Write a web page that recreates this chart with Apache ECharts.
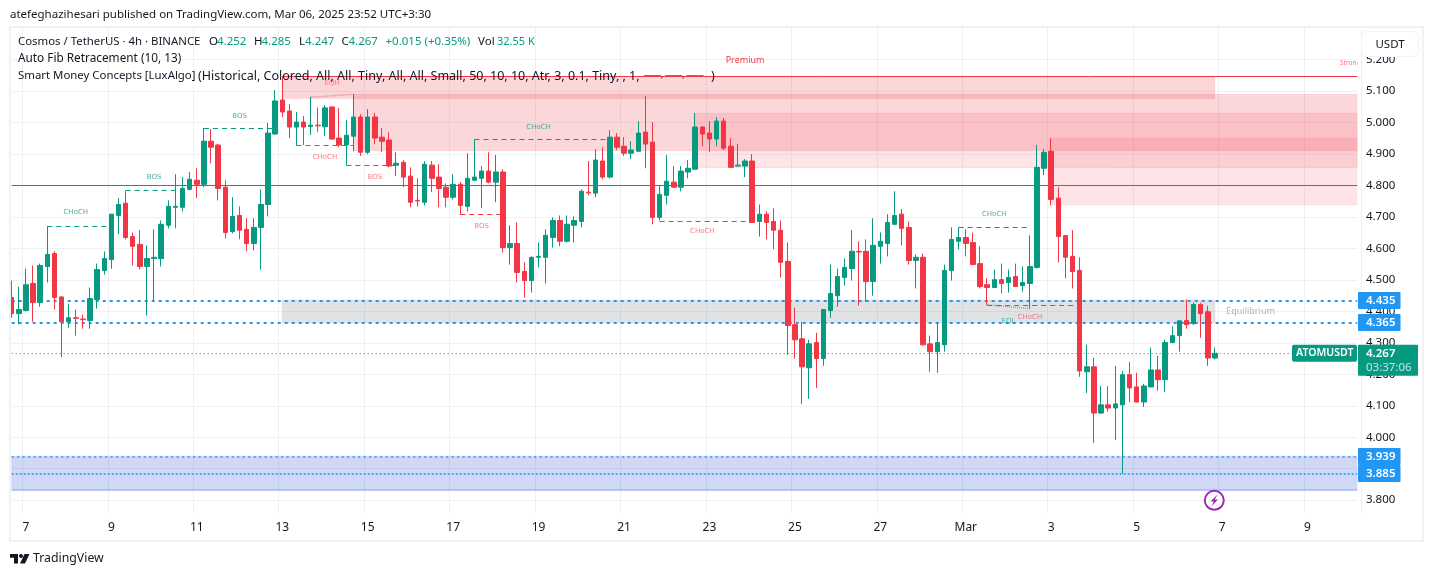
<!DOCTYPE html>
<html>
<head>
<meta charset="utf-8">
<style>html,body{margin:0;padding:0;background:#fff}#c{width:1433px;height:576px}</style>
<script src="https://cdn.jsdelivr.net/npm/echarts@6/dist/echarts.min.js"></script>
</head>
<body>
<div id="c"></div>
<script>
const opens = [
4.444,4.393,4.403,4.489,4.428,4.543,4.584,4.446,4.367,4.380,
4.376,4.371,4.438,4.530,4.565,4.705,4.744,4.638,4.613,4.543,
4.568,4.568,4.674,4.731,4.731,4.788,4.817,4.804,4.941,4.929,
4.795,4.654,4.705,4.661,4.616,4.667,4.740,4.964,5.072,5.037,
4.986,5.002,4.988,4.992,4.987,5.050,4.951,4.929,4.957,5.018,
4.906,5.018,4.954,4.945,4.865,4.874,4.830,4.753,4.747,4.865,
4.827,4.795,4.763,4.804,4.734,4.817,4.823,4.846,4.811,4.843,
4.603,4.616,4.527,4.498,4.572,4.572,4.635,4.689,4.623,4.674,
4.686,4.779,4.776,4.878,4.827,4.954,4.925,4.903,4.909,4.970,
4.938,4.699,4.769,4.811,4.795,4.843,4.852,4.986,4.967,4.948,
5.005,4.925,4.862,4.862,4.878,4.686,4.709,4.686,4.658,4.559,
4.358,4.313,4.221,4.301,4.250,4.403,4.450,4.508,4.536,4.591,
4.591,4.495,4.607,4.616,4.677,4.709,4.667,4.562,4.572,4.297,
4.272,4.294,4.530,4.623,4.635,4.619,4.552,4.485,4.476,4.501,
4.492,4.511,4.482,4.489,4.540,4.855,4.909,4.760,4.641,4.575,
4.530,4.208,4.224,4.077,4.103,4.093,4.103,4.199,4.160,4.112,
4.160,4.214,4.183,4.301,4.323,4.371,4.361,4.422,4.399,4.252];
const highs = [
4.498,4.479,4.536,4.546,4.552,4.672,4.591,4.448,4.425,4.406,
4.390,4.476,4.552,4.591,4.709,4.760,4.784,4.651,4.658,4.610,
4.661,4.689,4.753,4.836,4.827,4.843,4.855,4.983,4.980,4.933,
4.817,4.763,4.734,4.696,4.696,4.788,4.999,5.104,5.147,5.059,
5.034,5.021,5.082,5.048,5.056,5.050,5.047,5.008,5.091,5.027,
5.043,5.031,4.983,4.970,4.906,4.881,4.858,4.823,4.878,4.878,
4.868,4.807,4.836,4.811,4.903,4.947,4.862,4.906,4.897,4.852,
4.674,4.683,4.556,4.575,4.619,4.661,4.699,4.705,4.705,4.702,
4.788,4.878,4.916,4.922,4.976,4.967,4.954,4.941,5.005,5.085,
5.002,4.801,4.897,4.862,4.862,4.881,5.031,4.989,5.005,5.018,
5.015,4.951,4.932,4.884,4.900,4.740,4.718,4.728,4.689,4.619,
4.412,4.367,4.310,4.332,4.406,4.549,4.536,4.568,4.658,4.623,
4.629,4.696,4.651,4.709,4.782,4.725,4.686,4.581,4.584,4.323,
4.364,4.549,4.667,4.667,4.661,4.651,4.607,4.505,4.533,4.552,
4.533,4.552,4.543,4.642,4.929,4.916,4.951,4.795,4.642,4.658,
4.572,4.294,4.253,4.163,4.163,4.227,4.211,4.240,4.205,4.170,
4.285,4.259,4.310,4.352,4.371,4.438,4.428,4.428,4.418,4.285];
const lows = [
4.380,4.359,4.400,4.367,4.415,4.492,4.406,4.254,4.348,4.323,
4.345,4.345,4.409,4.517,4.536,4.645,4.629,4.546,4.533,4.387,
4.434,4.543,4.664,4.664,4.718,4.785,4.760,4.795,4.871,4.753,
4.632,4.648,4.629,4.591,4.594,4.533,4.702,4.961,5.018,4.951,
4.926,4.929,4.961,4.971,4.957,4.945,4.922,4.864,4.909,4.894,
4.900,4.932,4.906,4.858,4.830,4.795,4.731,4.734,4.737,4.779,
4.731,4.731,4.756,4.708,4.718,4.814,4.728,4.807,4.747,4.587,
4.549,4.492,4.444,4.460,4.540,4.489,4.603,4.607,4.619,4.619,
4.667,4.769,4.763,4.820,4.823,4.913,4.894,4.884,4.909,4.855,
4.677,4.689,4.740,4.794,4.782,4.823,4.851,4.925,4.906,4.925,
4.913,4.857,4.861,4.827,4.682,4.638,4.629,4.597,4.508,4.262,
4.250,4.106,4.122,4.157,4.227,4.380,4.415,4.482,4.498,4.418,
4.431,4.450,4.552,4.575,4.674,4.610,4.549,4.473,4.291,4.208,
4.205,4.272,4.498,4.597,4.575,4.548,4.473,4.421,4.475,4.457,
4.460,4.478,4.463,4.409,4.536,4.833,4.737,4.556,4.505,4.473,
4.192,4.141,3.982,4.074,4.081,3.991,3.884,4.112,4.111,4.096,
4.159,4.148,4.144,4.300,4.272,4.345,4.358,4.316,4.227,4.247];
const closes = [
4.393,4.406,4.485,4.428,4.546,4.581,4.444,4.367,4.380,4.378,
4.374,4.441,4.533,4.568,4.709,4.740,4.635,4.607,4.543,4.568,
4.572,4.677,4.734,4.734,4.791,4.820,4.804,4.941,4.922,4.791,
4.651,4.702,4.658,4.616,4.667,4.740,4.967,5.069,5.034,4.986,
5.002,4.986,4.992,4.990,5.047,4.948,4.929,4.960,5.018,4.906,
5.018,4.951,4.941,4.862,4.871,4.827,4.747,4.751,4.868,4.823,
4.791,4.763,4.804,4.737,4.823,4.827,4.846,4.811,4.843,4.603,
4.616,4.524,4.498,4.572,4.575,4.642,4.689,4.623,4.677,4.689,
4.782,4.777,4.881,4.827,4.954,4.922,4.903,4.913,4.967,4.932,
4.699,4.772,4.814,4.795,4.846,4.855,4.986,4.964,4.948,5.005,
4.919,4.858,4.865,4.878,4.683,4.709,4.683,4.658,4.556,4.355,
4.310,4.224,4.297,4.250,4.406,4.457,4.511,4.540,4.591,4.589,
4.495,4.610,4.623,4.683,4.705,4.664,4.562,4.572,4.294,4.272,
4.301,4.530,4.629,4.635,4.616,4.549,4.479,4.476,4.501,4.489,
4.508,4.479,4.492,4.543,4.858,4.906,4.756,4.638,4.572,4.527,
4.211,4.224,4.077,4.103,4.093,4.106,4.199,4.157,4.112,4.163,
4.214,4.183,4.301,4.323,4.370,4.358,4.422,4.393,4.252,4.267];

// time axis: a day label every 12 four-hour slots
const dayLabels = ['7','9','11','13','15','17','19','21','23','25','27','Mar','3','5','7','9'];
const firstLabelSlot = 2, slotsPerLabel = 12, slotCount = 190, lastSlot = 189;
const priceTicks = [3.8,3.9,4.0,4.1,4.2,4.3,4.4,4.5,4.6,4.7,4.8,4.9,5.0,5.1,5.2];

// [startSlot, endSlot, price]
const bullStructures = [[5,14,4.672],[16,23,4.784],[27,37,4.983],[65,84,4.947],[133,143,4.667]];
const bearStructures = [[40,48,4.9275],[47,54,4.864],[63,69,4.708],[91,104,4.688],[137,150,4.421]];
// [slot, price, text]
const bullLabels = [[9,4.715,'CHoCH'],[20,4.826,'BOS'],[32,5.02,'BOS'],[74,4.985,'CHoCH'],[138,4.709,'CHoCH']];
const bearLabels = [[44,4.89,'CHoCH'],[51,4.826,'BOS'],[66,4.67,'BOS'],[97,4.655,'CHoCH'],[143,4.383,'CHoCH']];
// [startSlot, endSlot, topPrice, bottomPrice]
const premiumZone = [38,169,5.147,5.076];
const orderBlockA = [48,189,5.090,4.911];
const orderBlockB = [96,189,5.030,4.857];
const orderBlockC = [146,189,4.950,4.739];
const equilibriumZone = [38,169,4.436,4.364];
const discountZone = [0,189,3.940,3.832];
const blueLevels = [4.435,4.365,3.939,3.885];
const lastPrice = 4.267, redLevel = 4.8, strongHigh = 5.147;
const eqhLine = [[42,5.081],[48,5.09]];
const eqlLine = [[137,4.421],[143,4.409]];

const GREEN='#089981', RED='#f23645', BLUE='#2196f3', INK='#131722', GRID='#eef0f4';
const FONT='"Noto Sans","Open Sans",sans-serif';

const categories = Array.from({length:slotCount},()=> '');
const labelSlots = new Set();
dayLabels.forEach((t,i)=>{const s=firstLabelSlot+i*slotsPerLabel;categories[s]=t;labelSlots.add(s);});
const candles = opens.map((o,i)=>[o,closes[i],lows[i],highs[i]]);

const zone=(z,fill,edge)=>[{coord:[z[0],z[2]],itemStyle:{color:fill,borderColor:edge,borderWidth:1}},{coord:[z[1],z[3]]}];
const hLine=(p,a,b,color,type,width)=>[{coord:[a,p],lineStyle:{color,type,width}},{coord:[b,p]}];
const tag=(l,c,op)=>({name:l[2],coord:[l[0],l[1]],label:{color:c,opacity:op}});

const chart = echarts.init(document.getElementById('c'),null,{renderer:'canvas'});
const plotLeft=8.14, slotW=7.12;
chart.setOption({
  animation:false,
  backgroundColor:'#fff',
  grid:{left:plotLeft,top:28,width:slotCount*slotW,height:485,containLabel:false},
  xAxis:{type:'category',data:categories,boundaryGap:true,
    axisLine:{show:false},axisTick:{show:false},
    axisLabel:{interval:(i)=>labelSlots.has(i),color:INK,fontSize:12,fontFamily:FONT,margin:9,hideOverlap:false},
    splitLine:{show:true,interval:(i)=>labelSlots.has(i),lineStyle:{color:GRID,width:1}}},
  yAxis:{type:'value',position:'right',min:3.7593,max:5.3009,scale:true,
    axisLine:{show:false},axisTick:{show:false},splitLine:{show:false},
    axisLabel:{customValues:priceTicks,formatter:(v)=>v.toFixed(3),color:INK,fontSize:11.5,fontFamily:FONT,margin:5,align:'left',showMinLabel:true,showMaxLabel:true}},
  series:[
    {type:'line',z:0,data:[],silent:true,
      markLine:{z:0,silent:true,symbol:'none',label:{show:false},animation:false,
        data:priceTicks.map(p=>hLine(p,0,lastSlot,GRID,'solid',1))}},
    {type:'line',z:1,data:[],silent:true,
      markArea:{z:1,silent:true,label:{show:false},
        data:[
          zone(discountZone,'rgba(41,78,214,0.22)','rgba(41,78,214,0.1)'),
          zone(premiumZone,'rgba(242,54,69,0.2)','rgba(242,54,69,0.05)'),
          zone(orderBlockA,'rgba(242,54,69,0.2)','rgba(242,54,69,0.1)'),
          zone(orderBlockB,'rgba(242,54,69,0.13)','rgba(242,54,69,0.1)'),
          zone(orderBlockC,'rgba(242,54,69,0.13)','rgba(242,54,69,0.1)'),
          zone(equilibriumZone,'rgba(120,123,134,0.22)','rgba(120,123,134,0.1)')
        ]}},
    {type:'line',z:2,data:[],silent:true,
      markLine:{z:2,silent:true,symbol:'none',label:{show:false},
        data:[
          hLine(redLevel,0,lastSlot,'#e53935','solid',1),
          hLine(strongHigh,premiumZone[0],lastSlot,RED,'solid',1),
          hLine(discountZone[3],0,lastSlot,'#a9bbef','solid',1.5),
          hLine(lastPrice,0,lastSlot,GREEN,[1,3],1),
          hLine(blueLevels[0],0,lastSlot,BLUE,[3,4],2),
          hLine(blueLevels[1],0,lastSlot,BLUE,[3,4],2),
          hLine(blueLevels[2],0,lastSlot,BLUE,[2,3.5],1.5),
          hLine(blueLevels[3],0,lastSlot,BLUE,[2,2],1.5),
          ...bullStructures.map(s=>hLine(s[2],s[0],s[1],GREEN,[5,4],1)),
          ...bearStructures.map(s=>hLine(s[2],s[0],s[1],RED,[5,4],1)),
          [{coord:eqhLine[0],lineStyle:{color:'rgba(242,54,69,.55)',type:[1,1],width:1.5}},{coord:eqhLine[1]}],
          [{coord:eqlLine[0],lineStyle:{color:'rgba(8,153,129,.55)',type:[1,1],width:1.5}},{coord:eqlLine[1]}]
        ]}},
    {type:'candlestick',z:3,data:candles,barWidth:5,
      itemStyle:{color:GREEN,color0:RED,borderColor:GREEN,borderColor0:RED,borderWidth:1}},
    {type:'line',z:4,data:[],silent:true,
      markPoint:{z:4,silent:true,symbol:'circle',symbolSize:0,
        label:{show:true,position:'inside',formatter:'{b}',fontSize:7,fontFamily:'"DejaVu Sans",sans-serif'},
        data:[
          ...bullLabels.map(l=>tag(l,GREEN,0.75)),
          ...bearLabels.map(l=>tag(l,RED,0.65)),
          {name:'EQH',coord:[45,5.127],label:{color:RED,opacity:0.6}},
          {name:'EQL',coord:[140,4.37],label:{color:GREEN,opacity:0.7}},
          {name:'Premium',coord:[103,5.199],label:{color:RED,fontSize:9,fontFamily:FONT}},
          {name:'Equilibrium',coord:[174,4.401],label:{color:'#b2b5be',fontSize:9,fontFamily:FONT}},
          {name:'Strong',coord:[188,5.189],label:{color:RED,opacity:.7,fontSize:6.5,fontFamily:FONT}}
        ]}}
  ]
});

const Y=(p)=>chart.convertToPixel({yAxisIndex:0},p);
const F=(s)=>s+'px '+FONT;
const txt=(x,y,text,fill,font,z,extra)=>({type:'text',z:z||20,silent:true,style:Object.assign({x,y,text,fill,font:font||F(11.5),verticalAlign:'middle',align:'left'},extra||{})});
const box=(x,y,w,h,fill,z,r)=>({type:'rect',z:z||18,silent:true,shape:{x,y,width:w,height:h,r:r||0},style:{fill}});
const g=[];
// page furniture
g.push(box(0,0,9,576,'#fff',15));
g.push(box(1357.5,28,3.5,486,'#fff',15));
g.push({type:'rect',z:16,silent:true,shape:{x:10,y:27,width:1413,height:514},style:{fill:'none',stroke:'#f1f2f5',lineWidth:2}});
g.push(box(10,0,1413,26,'#fff',15));
g.push(txt(10,15,'atefeghazihesari published on TradingView.com, Mar 06, 2025 23:52 UTC+3:30',INK));
// legend
const L1=41.5;
g.push(txt(18,L1,'Cosmos / TetherUS · 4h · BINANCE',INK,F(11.4)));
[[209,'O'],[254,'H'],[299,'L'],[341.5,'C'],[478,'Vol']].forEach(a=>g.push(txt(a[0],L1,a[1],INK)));
[[217,'4.252'],[261.5,'4.285'],[305,'4.247'],[348.5,'4.267'],[385.5,'+0.015 (+0.35%)']].forEach(a=>g.push(txt(a[0],L1,a[1],GREEN)));
g.push(txt(497,L1,'32.55 K',GREEN,F(11)));
g.push(txt(18,59,'Auto Fib Retracement (10, 13)',INK,F(11.8)));
g.push(txt(18,76,'Smart Money Concepts [LuxAlgo]',INK,F(11.4)));
g.push(txt(198,76,'(Historical, Colored, All, All, Tiny, All, All, Small, 50, 10, 10, Atr, 3, 0.1, Tiny, , 1,',INK,F(12.5)));
g.push(txt(644,76,'───, ───, ───',INK,F(8)));
g.push(txt(711,76,')',INK,F(12.5)));
// USDT button
g.push({type:'rect',z:18,silent:true,shape:{x:1361.5,y:31.5,width:57,height:25,r:5},style:{fill:'#fff',stroke:'#f0f3fa',lineWidth:1}});
g.push(txt(1390,44.5,'USDT',INK,F(11.5),20,{align:'center'}));
// blue level tags
blueLevels.forEach(p=>{const y=Y(p);g.push(box(1358,y-8.5,42.5,17,BLUE,18,1));g.push(txt(1366,y,p.toFixed(3),'#fff','600 '+F(11.5)));});
// last-price tags
const ly=Y(lastPrice);
g.push(box(1292,ly-8.5,65,17,GREEN,18,2));
g.push(txt(1296,ly,'ATOMUSDT','#fff','600 '+F(10.6)));
g.push(box(1358,ly-8.5,60,31,GREEN,18,1));
g.push(txt(1366,ly,lastPrice.toFixed(3),'#fff','600 '+F(11.5)));
g.push(txt(1366,ly+14.5,'03:37:06','rgba(255,255,255,.75)',F(11.5)));
// lightning badge
g.push({type:'circle',z:18,silent:true,shape:{cx:1214.3,cy:500.3,r:9.5},style:{fill:'#fff',stroke:'#9c27b0',lineWidth:2}});
g.push({type:'polygon',z:19,silent:true,shape:{points:[[1217.5,494.5],[1210.5,501.5],[1213.8,501.5],[1211.5,506.5],[1218,499.5],[1214.8,499.5]]},style:{fill:'#9c27b0'}});
// TradingView mark
g.push({type:'polygon',z:19,silent:true,shape:{points:[[10,554],[18,554],[18,563.5],[14,563.5],[14,557.7],[10,557.7]]},style:{fill:INK}});
g.push({type:'circle',z:19,silent:true,shape:{cx:21,cy:556,r:2},style:{fill:INK}});
g.push({type:'polygon',z:19,silent:true,shape:{points:[[24.5,554],[29.5,554],[25,563.5],[20,563.5]]},style:{fill:INK}});
g.push(txt(33,558.5,'TradingView',INK,F(12.3)));
chart.setOption({graphic:{elements:g}});
</script>
</body>
</html>
